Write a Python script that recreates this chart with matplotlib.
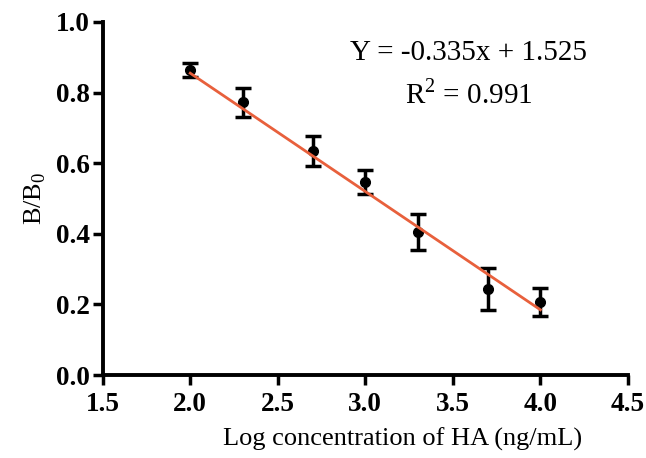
import numpy as np
import matplotlib.pyplot as plt

plt.rcParams['font.family'] = ['Liberation Serif', 'DejaVu Serif']
plt.rcParams['mathtext.fontset'] = 'custom'
plt.rcParams['mathtext.rm'] = 'Liberation Serif'

log_conc = [2.0, 2.3, 2.7, 3.0, 3.3, 3.7, 4.0]
ratio = [0.865, 0.772, 0.634, 0.547, 0.405, 0.244, 0.207]
err = [0.02, 0.04, 0.042, 0.035, 0.05, 0.06, 0.04]
slope, intercept = -0.335, 1.525

fig = plt.figure(figsize=(6.46, 4.58), dpi=100)
ax = fig.add_axes([0.159, 0.181, 0.813, 0.771])

xf = np.array([2.0, 4.0])
ax.plot(xf, slope * xf + intercept, color='#e8603c', lw=2, zorder=3)
ax.errorbar(log_conc, ratio, yerr=err, fmt='o', color='black', ms=7,
            elinewidth=2.5, capsize=6, capthick=2.5, zorder=2)

ax.set_xlim(1.5, 4.5)
ax.set_ylim(0, 1.0)
ax.set_xticks(np.arange(1.5, 4.51, 0.5))
ax.set_yticks(np.arange(0, 1.01, 0.2))
ax.set_xticklabels([f'{v:.1f}' for v in np.arange(1.5, 4.51, 0.5)], fontweight='bold')
ax.set_yticklabels([f'{v:.1f}' for v in np.arange(0, 1.01, 0.2)], fontweight='bold')
ax.tick_params(labelsize=19.5, width=2.5, length=7, direction='out', pad=2)
ax.tick_params(axis='x', pad=5)
for s in ['top', 'right']:
    ax.spines[s].set_visible(False)
for s in ['left', 'bottom']:
    ax.spines[s].set_linewidth(2.8)

ax.set_xlabel('Log concentration of HA (ng/mL)', fontsize=19)
ax.xaxis.set_label_coords(0.57, -0.15)
ax.set_ylabel('B/B$_0$', fontsize=19, labelpad=6)

ax.text(3.59, 0.892, 'Y = -0.335x + 1.525', fontsize=21, ha='center')
ax.text(3.59, 0.77, 'R$^2$ = 0.991', fontsize=21, ha='center')

fig.savefig('out.png', dpi=100)
